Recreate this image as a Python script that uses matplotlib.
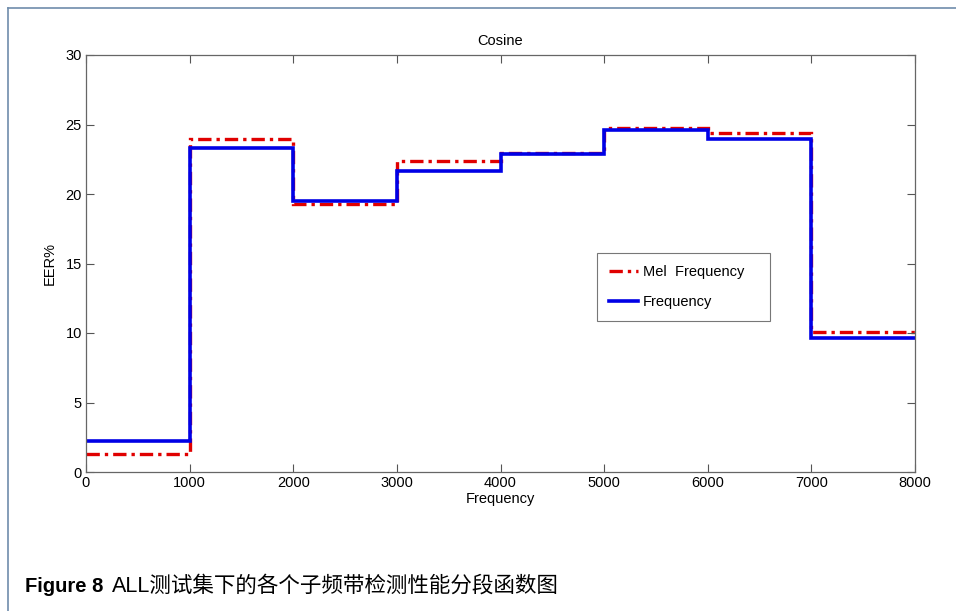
import matplotlib
matplotlib.use("Agg")
import matplotlib.pyplot as plt
from matplotlib.lines import Line2D

# sub-band edges (Hz) and EER per band
band_edges = [0, 1000, 2000, 3000, 4000, 5000, 6000, 7000, 8000]
eer_mel = [1.27, 23.93, 19.28, 22.37, 22.95, 24.77, 24.40, 10.07]
eer_linear = [2.25, 23.29, 19.47, 21.65, 22.88, 24.58, 23.96, 9.62]

x_ticks = list(range(0, 8001, 1000))
y_ticks = list(range(0, 31, 5))

plt.rcParams["font.family"] = ["Liberation Sans", "DejaVu Sans"]

fig = plt.figure(figsize=(9.56, 6.11), dpi=100)
ax = fig.add_axes([86 / 956, 1 - 472 / 611, 829 / 956, 417 / 611])

ax.stairs(eer_mel, band_edges, baseline=None, color="#e00000",
          linestyle=(0, (4, 1.5, 1, 1.5)), linewidth=2.4, label="Mel  Frequency")
ax.stairs(eer_linear, band_edges, baseline=None, color="#0000e6",
          linestyle="-", linewidth=2.6, label="Frequency")

ax.set_xlim(0, 8000)
ax.set_ylim(0, 30)
ax.set_xticks(x_ticks)
ax.set_yticks(y_ticks)
ax.tick_params(direction="in", length=6, width=0.8, color="#555555",
               labelsize=10.5, top=True, right=True, pad=3)
for s in ax.spines.values():
    s.set_color("#666666")
    s.set_linewidth(0.9)

ax.set_title("Cosine", fontsize=10.5, pad=7)
ax.set_xlabel("Frequency", fontsize=10.5, labelpad=1)
ax.set_ylabel("EER%", fontsize=10.5, labelpad=6)

leg = ax.legend(loc="lower left", bbox_to_anchor=(0.616, 0.362, 0.209, 0.168),
                mode="expand", borderaxespad=0, fontsize=10.5, handlelength=2.0,
                handletextpad=0.3, labelspacing=1.05, borderpad=0.85,
                fancybox=False, framealpha=1)
leg.get_frame().set_edgecolor("#777777")
leg.get_frame().set_linewidth(0.8)

# page frame around the figure
frame_c = "#6f8cab"
fig.add_artist(Line2D([8 / 956, 8 / 956], [0, 1 - 8 / 611], transform=fig.transFigure,
                      color=frame_c, linewidth=1.2))
fig.add_artist(Line2D([8 / 956, 1], [1 - 8 / 611, 1 - 8 / 611], transform=fig.transFigure,
                      color=frame_c, linewidth=1.2))

# caption: bold label, then the description right after it
cap_font = ["Liberation Sans", "Noto Sans CJK SC"]
cap_y = 1 - 586 / 611
lbl = fig.text(25 / 956, cap_y, "Figure 8", fontsize=14.5, fontweight="bold",
               va="center", family=cap_font)
fig.canvas.draw()
bb = lbl.get_window_extent()
fig.text(bb.x1 + 9, (bb.y0 + bb.y1) / 2, "ALL测试集下的各个子频带检测性能分段函数图",
         fontsize=15.5, va="center", family=cap_font, transform=None)

fig.savefig("out.png", dpi=100, facecolor="white")
